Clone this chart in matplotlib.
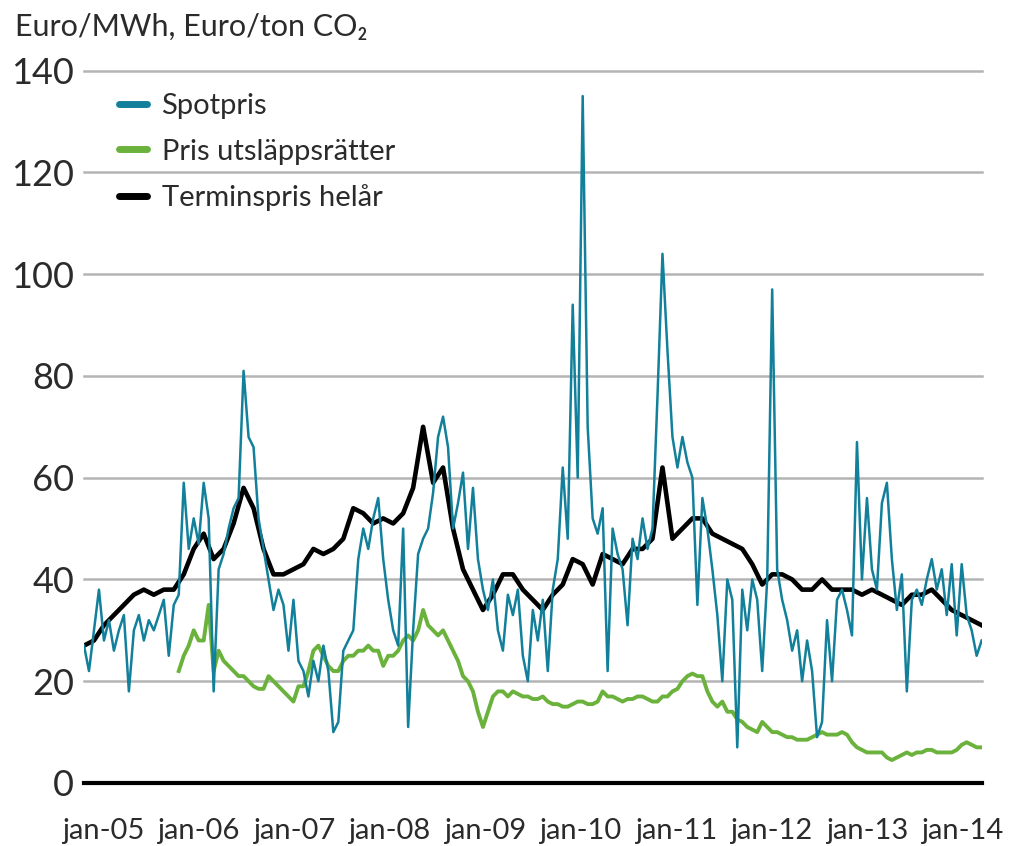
import numpy as np
import matplotlib
matplotlib.use('Agg')
import matplotlib.pyplot as plt

plt.rcParams['font.family'] = ['Lato', 'DejaVu Sans']

# time span of the series (decimal years)
t_start, t_end = 2004.80, 2014.20

# Spotpris, Euro/MWh (evenly spaced samples)
spot = [27, 22, 30, 38, 28, 32, 26, 30, 33, 18,
        30, 33, 28, 32, 30, 33, 36, 25, 35, 37,
        59, 46, 52, 47, 59, 52, 18, 42, 45, 50,
        54, 56, 81, 68, 66, 52, 46, 40, 34, 38,
        35, 26, 36, 24, 22, 17, 24, 20, 27, 22,
        10, 12, 26, 28, 30, 44, 50, 46, 52, 56,
        44, 36, 30, 27, 50, 11, 30, 45, 48, 50,
        57, 68, 72, 66, 50, 55, 61, 46, 58, 44,
        38, 34, 40, 30, 26, 37, 33, 38, 25, 20,
        34, 28, 36, 22, 38, 44, 62, 48, 94, 60,
        135, 70, 52, 49, 54, 22, 50, 45, 42, 31,
        48, 44, 52, 46, 50, 76, 104, 85, 68, 62,
        68, 63, 60, 35, 56, 50, 42, 33, 20, 40,
        36, 7, 38, 30, 40, 36, 22, 40, 97, 42,
        36, 32, 26, 30, 20, 28, 22, 9, 12, 32,
        20, 36, 38, 34, 29, 67, 40, 56, 42, 38,
        55, 59, 44, 34, 41, 18, 36, 38, 35, 40,
        44, 38, 42, 33, 43, 29, 43, 33, 30, 25,
        28]

# Pris utsläppsrätter, Euro/ton CO2 (starts later, same spacing as spot)
co2 = [22, 25, 27, 30, 28, 28, 35, 22, 26, 24,
       23, 22, 21, 21, 20, 19, 18.5, 18.5, 21, 20,
       19, 18, 17, 16, 19, 19, 22, 26, 27, 25,
       23, 22, 22, 24, 25, 25, 26, 26, 27, 26,
       26, 23, 25, 25, 26, 28, 29, 28, 30, 34,
       31, 30, 29, 30, 28, 26, 24, 21, 20, 18,
       14, 11, 14, 17, 18, 18, 17, 18, 17.5, 17,
       17, 16.5, 16.5, 17, 16, 15.5, 15.5, 15, 15, 15.5,
       16, 16, 15.5, 15.5, 16, 18, 17, 17, 16.5, 16,
       16.5, 16.5, 17, 17, 16.5, 16, 16, 17, 17, 18,
       18.5, 20, 21, 21.5, 21, 21, 18, 16, 15, 16,
       14, 14, 12.5, 12, 11, 10.5, 10, 12, 11, 10,
       10, 9.5, 9, 9, 8.5, 8.5, 8.5, 9, 9.5, 10,
       9.5, 9.5, 9.5, 10, 9.5, 8, 7, 6.5, 6, 6,
       6, 6, 5, 4.5, 5, 5.5, 6, 5.5, 6, 6,
       6.5, 6.5, 6, 6, 6, 6, 6.5, 7.5, 8, 7.5,
       7, 7]

# Terminspris helår, Euro/MWh (coarser sampling)
forward = [27, 28, 31, 33, 35, 37, 38, 37, 38, 38,
           41, 46, 49, 44, 46, 51, 58, 54, 46, 41,
           41, 42, 43, 46, 45, 46, 48, 54, 53, 51,
           52, 51, 53, 58, 70, 59, 62, 50, 42, 38,
           34, 37, 41, 41, 38, 36, 34, 37, 39, 44,
           43, 39, 45, 44, 43, 46, 46, 48, 62, 48,
           50, 52, 52, 49, 48, 47, 46, 43, 39, 41,
           41, 40, 38, 38, 40, 38, 38, 38, 37, 38,
           37, 36, 35, 37, 37, 38, 36, 34, 33, 32,
           31]

years = list(range(2005, 2015))
year_labels = ['jan-%02d' % (y % 100) for y in years]
yticks = [0, 20, 40, 60, 80, 100, 120, 140]

t_spot = np.linspace(t_start, t_end, len(spot))
t_co2 = t_spot[-len(co2):]
t_fwd = np.linspace(t_start, t_end, len(forward))

txt = '#2b2b2b'

fig = plt.figure(figsize=(10.12, 8.46), dpi=100, facecolor='white')
ax = fig.add_axes([0.083, 0.0745, 0.887, 0.842])

for v in yticks[1:]:
    ax.axhline(v, color='#b4b4b4', lw=1.8, zorder=1, clip_on=False)
ax.axhline(0, color='black', lw=3, zorder=5, clip_on=False)

ax.plot(t_co2, co2, color='#6ab23c', lw=2.8, label='Pris utsläppsrätter', zorder=2)
ax.plot(t_fwd, forward, color='black', lw=3.3, label='Terminspris helår', zorder=3)
ax.plot(t_spot, spot, color='#12809a', lw=1.8, label='Spotpris', zorder=4)

ax.set_xlim(t_start, t_end)
ax.set_ylim(0, 140)
ax.set_yticks(yticks)
ax.set_yticklabels([str(v) for v in yticks], fontsize=26, color=txt)
ax.set_xticks(years)
ax.set_xticklabels(year_labels, fontsize=21, color=txt)
ax.tick_params(axis='both', length=0)
ax.tick_params(axis='y', pad=7)
ax.tick_params(axis='x', pad=25)
for s in ax.spines.values():
    s.set_visible(False)

handles, labels = ax.get_legend_handles_labels()
order = [2, 0, 1]
leg = ax.legend([handles[i] for i in order], [labels[i] for i in order],
                loc='upper left', bbox_to_anchor=(0.01, 1.005), frameon=False,
                prop={'size': 21}, handlelength=0.95,
                handletextpad=0.5, labelspacing=0.66, labelcolor=txt)
for line in leg.get_lines():
    line.set_linewidth(5)
    line.set_solid_capstyle('round')

fig.text(0.015, 1 - 13 / 846, 'Euro/MWh, Euro/ton CO₂', fontsize=22,
         color=txt, va='top', ha='left')

fig.savefig('out.png', dpi=100)
